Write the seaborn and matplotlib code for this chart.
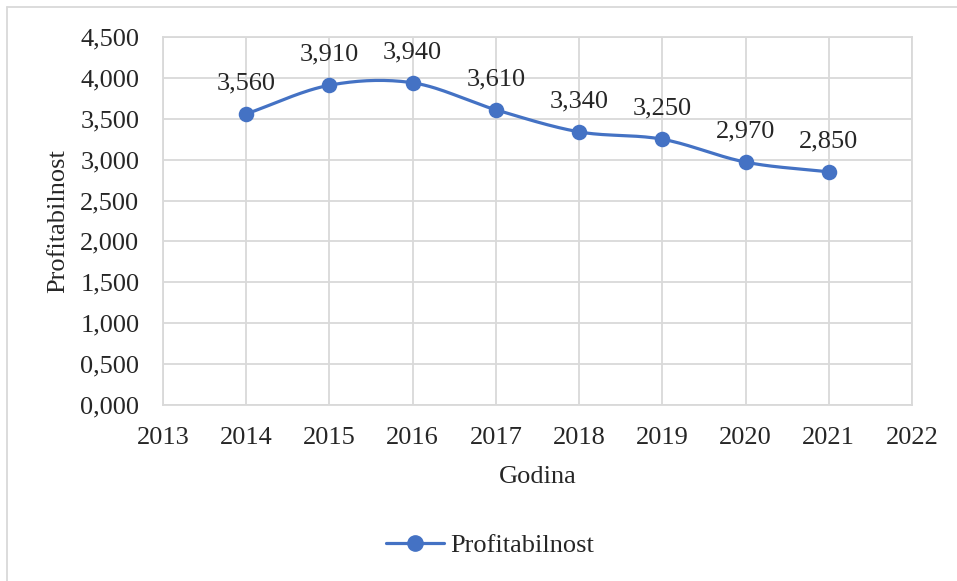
import numpy as np
import pandas as pd
import matplotlib
matplotlib.use('Agg')
import matplotlib.pyplot as plt
import seaborn as sns
from matplotlib.lines import Line2D

# data
Godina = [2014, 2015, 2016, 2017, 2018, 2019, 2020, 2021]
Profitabilnost = [3.56, 3.91, 3.94, 3.61, 3.34, 3.25, 2.97, 2.85]
y_ticks = [0, 0.5, 1.0, 1.5, 2.0, 2.5, 3.0, 3.5, 4.0, 4.5]
x_ticks = [2013, 2014, 2015, 2016, 2017, 2018, 2019, 2020, 2021, 2022]

blue = '#4472C4'
grid_col = '#D9D9D9'

sns.set_style('white')
plt.rcParams['font.family'] = ['Liberation Serif', 'DejaVu Serif']


def smooth(x, y, n=30):
    # catmull-rom style smoothing, like excel "smoothed line"
    x = np.asarray(x, float)
    y = np.asarray(y, float)
    px = np.concatenate([[2 * x[0] - x[1]], x, [2 * x[-1] - x[-2]]])
    py = np.concatenate([[2 * y[0] - y[1]], y, [2 * y[-1] - y[-2]]])
    xs, ys = [], []
    t = np.linspace(0, 1, n)
    for i in range(1, len(px) - 2):
        for p, out in ((px, xs), (py, ys)):
            p0, p1, p2, p3 = p[i - 1], p[i], p[i + 1], p[i + 2]
            out.extend(0.5 * ((2 * p1) + (-p0 + p2) * t
                              + (2 * p0 - 5 * p1 + 4 * p2 - p3) * t ** 2
                              + (-p0 + 3 * p1 - 3 * p2 + p3) * t ** 3))
    return np.array(xs), np.array(ys)


df = pd.DataFrame({'Godina': Godina, 'Profitabilnost': Profitabilnost})
sx, sy = smooth(Godina, Profitabilnost)

fig = plt.figure(figsize=(9.57, 5.81), dpi=100)
ax = fig.add_axes([163 / 957, 1 - 405 / 581, (912 - 163) / 957, (405 - 37) / 581])

ax.plot(sx, sy, color=blue, lw=2.3, zorder=3, solid_capstyle='round')
sns.scatterplot(data=df, x='Godina', y='Profitabilnost', ax=ax, color=blue,
                s=125, edgecolor=blue, linewidth=0, zorder=4, legend=False)

for x, y in zip(Godina, Profitabilnost):
    ax.annotate(f"{y:.3f}".replace('.', ','), (x, y), xytext=(0, 22),
                textcoords='offset points', ha='center', va='center', fontsize=19)

ax.set_xlim(2013, 2022)
ax.set_ylim(0, 4.5)
ax.set_xticks(x_ticks)
ax.set_yticks(y_ticks)
ax.set_yticklabels([f"{v:.3f}".replace('.', ',') for v in y_ticks])
ax.tick_params(axis='both', labelsize=19, length=0)
ax.tick_params(axis='y', pad=17)
ax.tick_params(axis='x', pad=16)
ax.grid(True, color=grid_col, lw=1.3)
ax.set_axisbelow(True)
for s in ax.spines.values():
    s.set_color(grid_col)
    s.set_linewidth(1.3)

ax.set_xlabel('Godina', fontsize=19, labelpad=12)
ax.set_ylabel('Profitabilnost', fontsize=19, labelpad=8)

handle = Line2D([0], [0], color=blue, lw=2.3, marker='o', markersize=11)
fig.legend([handle], ['Profitabilnost'], loc='center', bbox_to_anchor=(490 / 957, 1 - 545 / 581),
           frameon=False, fontsize=19, handlelength=2.2, handletextpad=0.2)

# outer chart border (only top and left visible)
fig.add_artist(Line2D([7 / 957, 7 / 957], [0, 1 - 7 / 581], transform=fig.transFigure, color=grid_col, lw=1.3))
fig.add_artist(Line2D([7 / 957, 1], [1 - 7 / 581, 1 - 7 / 581], transform=fig.transFigure, color=grid_col, lw=1.3))

fig.savefig('out.png', dpi=100)
